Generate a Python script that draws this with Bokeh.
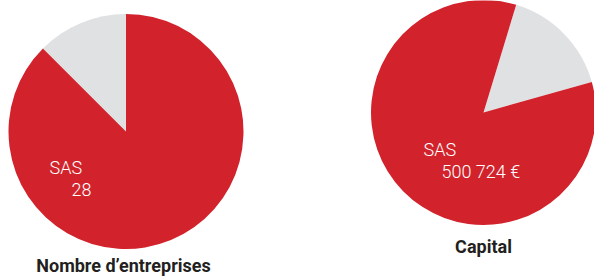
import numpy as np
from bokeh.plotting import figure
from bokeh.models import Range1d, ColumnDataSource
from bokeh.core.properties import value
from bokeh.embed import file_html
from bokeh.resources import INLINE

# ---- data ----
categories = ["Autres", "SAS"]
nb_entreprises = [4, 28]
capital = [95000, 500724]
titles = ["Nombre d\u2019entreprises", "Capital"]
label_sas = ["SAS", "SAS"]
label_values = ["28", "500 724 \u20ac"]

colors = ["#E0E1E3", "#D2232C"]

W, H = 594, 277
p = figure(width=W, height=H, output_backend="svg", toolbar_location=None,
           x_range=Range1d(0, W), y_range=Range1d(0, H),
           min_border=0, outline_line_color=None, background_fill_color="white",
           border_fill_color="white")
p.axis.visible = False
p.grid.visible = False

REF_H = 277

def up(y):
    return REF_H - y

pies = [
    dict(vals=nb_entreprises, cx=125.5, cy=131, r=117.5, start=90.0,
         lab=(49, 167, 71, 189), title=(123, 265)),
    dict(vals=capital, cx=483, cy=112, r=112.5, start=15.7,
         lab=(423, 149, 441, 171), title=(483, 246)),
]

for i, pie in enumerate(pies):
    vals = np.array(pie["vals"], dtype=float)
    frac = vals / vals.sum()
    cum = np.concatenate([[0], np.cumsum(frac)])
    start = np.deg2rad(pie["start"]) + cum[:-1] * 2 * np.pi
    end = np.deg2rad(pie["start"]) + cum[1:] * 2 * np.pi
    src = ColumnDataSource(dict(start=start, end=end, color=colors,
                                cat=categories))
    p.wedge(x=pie["cx"], y=up(pie["cy"]), radius=pie["r"],
            start_angle="start", end_angle="end", fill_color="color",
            line_color=None, source=src)
    lx1, ly1, lx2, ly2 = pie["lab"]
    p.text(x=[lx1], y=[up(ly1)], text=[label_sas[i]], text_color="white",
           text_font=value("'Roboto Light', Roboto"), text_font_size="18px",
           text_align="left", text_baseline="alphabetic")
    p.text(x=[lx2], y=[up(ly2)], text=[label_values[i]], text_color="white",
           text_font=value("'Roboto Light', Roboto"), text_font_size="18px",
           text_align="left", text_baseline="alphabetic")
    tx, ty = pie["title"]
    p.text(x=[tx], y=[up(ty)], text=[titles[i]], text_color="#231F20",
           text_font=value("Roboto"), text_font_style="bold",
           text_font_size="18px", text_align="center",
           text_baseline="alphabetic")

open("out.html", "w").write(file_html(p, INLINE))
